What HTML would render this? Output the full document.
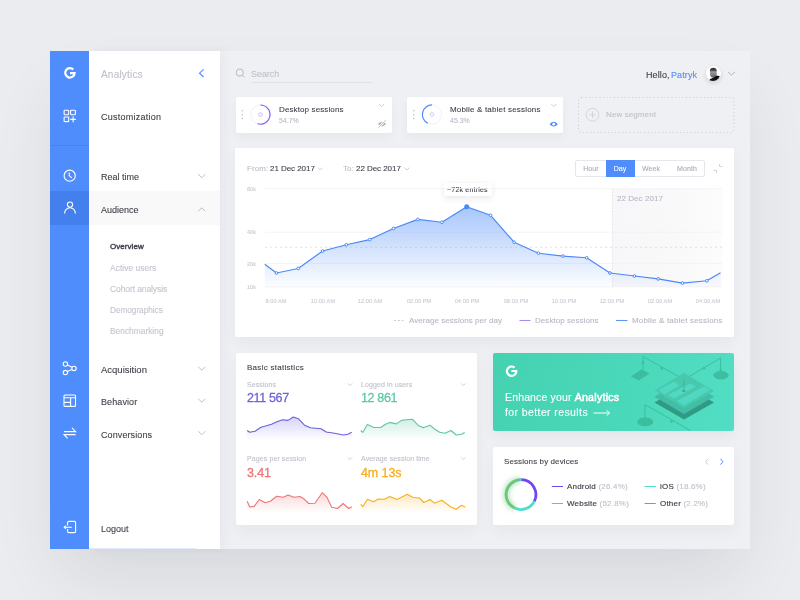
<!DOCTYPE html>
<html><head><meta charset="utf-8"><style>
*{margin:0;padding:0;box-sizing:border-box}
html,body{width:800px;height:600px;overflow:hidden;background:#EBECEF;font-family:"Liberation Sans",sans-serif;color:#3B3C45}
.t{position:absolute;white-space:nowrap;line-height:1;-webkit-text-stroke:0.1px currentColor;will-change:transform}
.a{position:absolute}
svg{position:absolute;left:0;top:0;overflow:visible}
</style></head><body>
<div class="a" style="left:50px;top:51px;width:700px;height:498px;background:#EFF0F3;box-shadow:0 34px 64px -12px rgba(40,50,70,0.12)"></div>
<div class="a" style="left:89px;top:51px;width:131px;height:498px;background:#fff;box-shadow:5px 0 9px rgba(50,60,80,0.045)"></div>
<div class="a" style="left:89px;top:548px;width:107px;height:1px;background:#E2EBFB"></div>
<div class="a" style="left:89px;top:191px;width:131px;height:34px;background:#F9F9FA"></div>
<div class="a" style="left:50px;top:51px;width:39.3px;height:498px;background:#4E8DFB"></div>
<div class="a" style="left:50px;top:191px;width:39px;height:34px;background:#4380EE"></div>
<div class="a" style="left:50px;top:145px;width:39px;height:1px;background:#4782EE"></div>
<div class="t" style="left:101.00px;top:70.00px;font-size:10px;color:#BDBFCA;letter-spacing:0.2px;">Analytics</div>
<div class="t" style="left:101.00px;top:113.00px;font-size:9px;color:#3E3F48;letter-spacing:0.25px;">Customization</div>
<div class="t" style="left:101.00px;top:173.00px;font-size:9px;color:#3E3F48;">Real time</div>
<div class="t" style="left:101.00px;top:206.00px;font-size:9px;color:#3E3F48;">Audience</div>
<div class="t" style="left:109.60px;top:243.00px;font-size:8px;color:#3E3F48;letter-spacing:0.05px;"><span style="-webkit-text-stroke:0.4px #3E3F48">Overview</span></div>
<div class="t" style="left:109.60px;top:264.00px;font-size:8.5px;color:#C3C4CE;">Active users</div>
<div class="t" style="left:109.60px;top:285.00px;font-size:8.5px;color:#C3C4CE;letter-spacing:-0.1px;">Cohort analysis</div>
<div class="t" style="left:109.60px;top:307.00px;font-size:8.2px;color:#C3C4CE;">Demographics</div>
<div class="t" style="left:109.60px;top:327.00px;font-size:8.4px;color:#C3C4CE;">Benchmarking</div>
<div class="t" style="left:101.00px;top:365.00px;font-size:9.5px;color:#3E3F48;">Acquisition</div>
<div class="t" style="left:101.00px;top:398.00px;font-size:9px;color:#3E3F48;letter-spacing:0.1px;">Behavior</div>
<div class="t" style="left:101.00px;top:431.00px;font-size:9px;color:#3E3F48;letter-spacing:0.1px;">Conversions</div>
<div class="t" style="left:101.00px;top:525.00px;font-size:9px;color:#3E3F48;">Logout</div>
<div class="t" style="left:250.60px;top:70.00px;font-size:9px;color:#C0C1CB;letter-spacing:-0.05px;">Search</div>
<div class="a" style="left:250.5px;top:81.6px;width:122px;height:1px;background:#E1E2E7"></div>
<div class="t" style="left:645.60px;top:71.00px;font-size:9px;color:#3E3F48;letter-spacing:0.1px;">Hello,</div>
<div class="t" style="left:671.00px;top:71.00px;font-size:9px;color:#4E8DFB;letter-spacing:0.1px;">Patryk</div>
<div class="a" style="left:705.5px;top:65.9px;width:15px;height:15px;border-radius:50%;background:#fff;box-shadow:0 2px 5px rgba(0,0,0,0.14)"></div>
<div class="a" style="left:236px;top:97px;width:155.5px;height:35.5px;background:#fff;border-radius:2px;box-shadow:0 5px 10px rgba(50,60,80,0.045)"></div>
<div class="a" style="left:407px;top:97px;width:156px;height:35.5px;background:#fff;border-radius:2px;box-shadow:0 5px 10px rgba(50,60,80,0.045)"></div>
<div class="t" style="left:278.80px;top:106.00px;font-size:8px;color:#3E3F48;letter-spacing:0.12px;">Desktop sessions</div>
<div class="t" style="left:278.80px;top:117.00px;font-size:7px;color:#B9BBC6;">54.7%</div>
<div class="t" style="left:450.30px;top:106.00px;font-size:8px;color:#3E3F48;letter-spacing:0.18px;">Mobile &amp; tablet sessions</div>
<div class="t" style="left:450.30px;top:117.00px;font-size:7px;color:#B9BBC6;">45.3%</div>
<div class="t" style="left:606.00px;top:111.00px;font-size:8px;color:#BEC0CA;letter-spacing:0.1px;">New segment</div>
<div class="a" style="left:235px;top:148px;width:498.5px;height:188.5px;background:#fff;border-radius:2px;box-shadow:0 6px 14px rgba(50,60,80,0.05)"></div>
<div class="t" style="left:247.00px;top:165.00px;font-size:8px;color:#B9BBC6;letter-spacing:0.1px;">From:</div>
<div class="t" style="left:270.00px;top:165.00px;font-size:8px;color:#3E3F48;letter-spacing:-0.05px;">21 Dec 2017</div>
<div class="t" style="left:343.00px;top:165.00px;font-size:8px;color:#B9BBC6;letter-spacing:0.1px;">To:</div>
<div class="t" style="left:355.50px;top:165.00px;font-size:8px;color:#3E3F48;letter-spacing:-0.05px;">22 Dec 2017</div>
<div class="a" style="left:575.2px;top:160.3px;width:129.8px;height:17.2px;border:1px solid #E6E7EC;border-radius:2px"></div>
<div class="a" style="left:606px;top:160.3px;width:28.7px;height:17.2px;background:#4E8DFB"></div>
<div class="t" style="left:490.50px;width:200px;text-align:center;top:165.00px;font-size:7px;color:#A9ABB8;letter-spacing:0.1px;">Hour</div>
<div class="t" style="left:520.30px;width:200px;text-align:center;top:165.00px;font-size:7px;color:#FFFFFF;letter-spacing:0.1px;">Day</div>
<div class="t" style="left:551.30px;width:200px;text-align:center;top:165.00px;font-size:7px;color:#A9ABB8;letter-spacing:0.1px;">Week</div>
<div class="t" style="left:586.70px;width:200px;text-align:center;top:165.00px;font-size:7px;color:#A9ABB8;letter-spacing:0.1px;">Month</div>
<div class="a" style="left:612.4px;top:188.6px;width:110px;height:98.6px;background:linear-gradient(90deg,#F7F7F9 0%,#F9F9FA 60%,#FCFCFD 100%)"></div>
<div class="t" style="left:616.70px;top:195.00px;font-size:8px;color:#B7B8C3;letter-spacing:0.05px;">22 Dec 2017</div>
<div class="t" style="left:247.00px;top:187.00px;font-size:5.6px;color:#C9CAD3;">80k</div>
<div class="t" style="left:247.00px;top:230.00px;font-size:5.6px;color:#C9CAD3;">40k</div>
<div class="t" style="left:247.00px;top:262.00px;font-size:5.6px;color:#C9CAD3;">20k</div>
<div class="t" style="left:247.00px;top:285.00px;font-size:5.6px;color:#C9CAD3;">10k</div>
<div class="t" style="left:176.10px;width:200px;text-align:center;top:299.00px;font-size:5.6px;color:#CACBD3;letter-spacing:0.1px;">8:00 AM</div>
<div class="t" style="left:222.60px;width:200px;text-align:center;top:299.00px;font-size:5.6px;color:#CACBD3;letter-spacing:0.1px;">10:00 AM</div>
<div class="t" style="left:270.40px;width:200px;text-align:center;top:299.00px;font-size:5.6px;color:#CACBD3;letter-spacing:0.1px;">12:00 AM</div>
<div class="t" style="left:318.50px;width:200px;text-align:center;top:299.00px;font-size:5.6px;color:#CACBD3;letter-spacing:0.1px;">02:00 PM</div>
<div class="t" style="left:367.00px;width:200px;text-align:center;top:299.00px;font-size:5.6px;color:#CACBD3;letter-spacing:0.1px;">04:00 PM</div>
<div class="t" style="left:415.75px;width:200px;text-align:center;top:299.00px;font-size:5.6px;color:#CACBD3;letter-spacing:0.1px;">08:00 PM</div>
<div class="t" style="left:464.20px;width:200px;text-align:center;top:299.00px;font-size:5.6px;color:#CACBD3;letter-spacing:0.1px;">10:00 PM</div>
<div class="t" style="left:512.00px;width:200px;text-align:center;top:299.00px;font-size:5.6px;color:#CACBD3;letter-spacing:0.1px;">12:00 PM</div>
<div class="t" style="left:559.70px;width:200px;text-align:center;top:299.00px;font-size:5.6px;color:#CACBD3;letter-spacing:0.1px;">02:00 AM</div>
<div class="t" style="left:608.10px;width:200px;text-align:center;top:299.00px;font-size:5.6px;color:#CACBD3;letter-spacing:0.1px;">04:00 AM</div>
<div class="a" style="left:443.5px;top:182.5px;width:48.5px;height:13.5px;background:#fff;border-radius:1px;box-shadow:0 2px 6px rgba(50,60,80,0.12)"></div>
<div class="t" style="left:447.00px;top:186.00px;font-size:7px;color:#3E3F48;letter-spacing:0.2px;">~72k entries</div>
<div class="t" style="left:408.70px;top:317.00px;font-size:8px;color:#B5B7C2;letter-spacing:0.05px;">Average sessions per day</div>
<div class="t" style="left:534.50px;top:317.00px;font-size:8px;color:#B5B7C2;letter-spacing:0.05px;">Desktop sessions</div>
<div class="t" style="left:631.80px;top:317.00px;font-size:8px;color:#B5B7C2;letter-spacing:0.18px;">Mobile &amp; tablet sessions</div>
<div class="a" style="left:236px;top:352.5px;width:241px;height:172.5px;background:#fff;border-radius:2px;box-shadow:0 6px 14px rgba(50,60,80,0.05)"></div>
<div class="t" style="left:247.30px;top:364.00px;font-size:8px;color:#3E3F48;letter-spacing:0.28px;">Basic statistics</div>
<div class="t" style="left:247.30px;top:381.00px;font-size:7px;color:#BFC1CB;letter-spacing:0.1px;">Sessions</div>
<div class="t" style="left:360.70px;top:381.00px;font-size:7px;color:#BFC1CB;letter-spacing:0.1px;">Logged in users</div>
<div class="t" style="left:247.30px;top:455.00px;font-size:7px;color:#BFC1CB;letter-spacing:0.1px;">Pages per session</div>
<div class="t" style="left:360.70px;top:455.00px;font-size:7px;color:#BFC1CB;letter-spacing:0.1px;">Average session time</div>
<div class="t" style="left:247.30px;top:392.00px;font-size:12.5px;color:#6C64DC;letter-spacing:-0.35px;-webkit-text-stroke:0.3px currentColor">211 567</div>
<div class="t" style="left:360.70px;top:392.00px;font-size:12.5px;color:#5EC6A6;letter-spacing:-0.35px;-webkit-text-stroke:0.3px currentColor">12 861</div>
<div class="t" style="left:247.30px;top:467.00px;font-size:12.5px;color:#EF7377;letter-spacing:-0.1px;-webkit-text-stroke:0.3px currentColor">3.41</div>
<div class="t" style="left:360.70px;top:467.00px;font-size:12.5px;color:#F8AE1E;letter-spacing:-0.1px;-webkit-text-stroke:0.3px currentColor">4m 13s</div>
<div class="a" style="left:493px;top:352.5px;width:241.3px;height:78.3px;border-radius:2px;background:linear-gradient(100deg,#44D2B1 0%,#4AD8BA 55%,#52DEC4 100%);box-shadow:0 6px 14px rgba(50,60,80,0.06);overflow:hidden"></div>
<div class="t" style="left:505.00px;top:392.00px;font-size:10.5px;color:#FFFFFF;letter-spacing:0.15px;">Enhance your <span style="-webkit-text-stroke:0.55px #fff;letter-spacing:0.3px">Analytics</span></div>
<div class="t" style="left:505.00px;top:407.00px;font-size:10.5px;color:#FFFFFF;letter-spacing:0.4px;">for better results</div>
<div class="a" style="left:493px;top:447.3px;width:241.3px;height:77.7px;background:#fff;border-radius:2px;box-shadow:0 6px 14px rgba(50,60,80,0.05)"></div>
<div class="t" style="left:504.30px;top:458.00px;font-size:8px;color:#3E3F48;letter-spacing:0.1px;">Sessions by devices</div>
<div class="t" style="left:567.30px;top:483.00px;font-size:8px;color:#3E3F48;letter-spacing:0.2px;"><span style="-webkit-text-stroke:0.15px #3E3F48">Android</span> <span style="color:#BFC1CB">(26.4%)</span></div>
<div class="t" style="left:567.30px;top:500.00px;font-size:8px;color:#3E3F48;letter-spacing:0.2px;"><span style="-webkit-text-stroke:0.15px #3E3F48">Website</span> <span style="color:#BFC1CB">(52.8%)</span></div>
<div class="t" style="left:660.10px;top:483.00px;font-size:8px;color:#3E3F48;letter-spacing:0.2px;"><span style="-webkit-text-stroke:0.15px #3E3F48">iOS</span> <span style="color:#BFC1CB">(18.6%)</span></div>
<div class="t" style="left:660.10px;top:500.00px;font-size:8px;color:#3E3F48;letter-spacing:0.2px;"><span style="-webkit-text-stroke:0.15px #3E3F48">Other</span> <span style="color:#BFC1CB">(2.2%)</span></div>
<svg width="800" height="600" viewBox="0 0 800 600"><path d="M198.3,174.25 L201.8,177.75 L205.3,174.25" fill="none" stroke="#B5B7C3" stroke-width="0.9"/><path d="M198.3,211.25 L201.8,207.75 L205.3,211.25" fill="none" stroke="#B5B7C3" stroke-width="0.9"/><path d="M198.3,366.75 L201.8,370.25 L205.3,366.75" fill="none" stroke="#B5B7C3" stroke-width="0.9"/><path d="M198.3,398.75 L201.8,402.25 L205.3,398.75" fill="none" stroke="#B5B7C3" stroke-width="0.9"/><path d="M198.3,431.25 L201.8,434.75 L205.3,431.25" fill="none" stroke="#B5B7C3" stroke-width="0.9"/><path d="M203.6,69.3 L199.5,73.2 L203.6,77" fill="none" stroke="#4E8DFB" stroke-width="1.1"/><path d="M73.3,69.6 A4.7,4.7 0 1 0 74.6,73.1 L70.0,73.1" fill="none" stroke="#FFFFFF" stroke-width="2.2"/><g fill="none" stroke="#FFFFFF" stroke-width="1.1"><rect x="64.1" y="110.3" width="4.6" height="4.4" rx="0.6"/><rect x="70.6" y="110.3" width="4.8" height="4.4" rx="0.6"/><rect x="64.1" y="117" width="4.6" height="4.6" rx="0.6"/><path d="M70.3,119.4 H75.9 M73.1,116.6 V122.2"/></g><g fill="none" stroke="#FFFFFF" stroke-width="1.1"><circle cx="69.7" cy="175.7" r="5.6"/><path d="M69.2,172.6 V175.6 L71.8,177.9"/></g><g fill="none" stroke="#FFFFFF" stroke-width="1.1"><circle cx="70" cy="204.6" r="2.6"/><path d="M64.6,213.5 A5.4,5.8 0 0 1 75.4,213.5"/></g><g fill="none" stroke="#FFFFFF" stroke-width="1.1"><circle cx="65.4" cy="364" r="2.2"/><circle cx="74" cy="368.4" r="2.2"/><circle cx="65.4" cy="372.6" r="2.2"/><path d="M67.4,365 L72,367.3 M67.4,371.6 L72,369.5"/></g><g fill="none" stroke="#FFFFFF" stroke-width="1.1"><rect x="64" y="395" width="11.5" height="11.4" rx="1"/><path d="M64,397.8 H75.5 M70.6,397.8 V406.4 M64,402.4 H70.6"/></g><g fill="none" stroke="#FFFFFF" stroke-width="1.1"><path d="M64,431.6 H75.6 L72,427.8 M75.6,434.6 H64 L67.6,438.4"/></g><g fill="none" stroke="#FFFFFF" stroke-width="1.1"><path d="M67.6,525.4 V522.6 Q67.6,521.4 68.8,521.4 H74.4 Q75.6,521.4 75.6,522.6 V531.4 Q75.6,532.6 74.4,532.6 H68.8 Q67.6,532.6 67.6,531.4 V529"/><path d="M64.2,527.3 H71.8"/><path d="M66,525.7 L64.2,527.3 L66,528.9"/></g><g fill="none" stroke="#B5B7C3" stroke-width="1"><circle cx="239.8" cy="72.6" r="3.6"/><path d="M242.4,75.2 L244.6,77.4"/></g><defs><clipPath id="avc"><circle cx="713" cy="73.4" r="7.5"/></clipPath><linearGradient id="face" x1="0" y1="0" x2="0" y2="1"><stop offset="0" stop-color="#333"/><stop offset="0.25" stop-color="#444"/><stop offset="0.4" stop-color="#9c9c9c"/><stop offset="0.75" stop-color="#7a7a7a"/><stop offset="1" stop-color="#555"/></linearGradient></defs><g clip-path="url(#avc)"><path d="M710,69.5 Q710.5,67.8 713.2,67.8 Q716.6,67.9 716.7,70.5 L716.6,75 Q716,77.6 713.3,77.8 Q710.6,77.5 710.1,75 Z" fill="url(#face)"/><path d="M708.6,80.9 Q710,78.4 712.5,77.9 Q715,77.2 716.3,75.6 Q719.5,75.8 721,77 L721,82 L708,82 Z" fill="#111"/></g><path d="M728.0,71.9 L731.5,75.1 L735.0,71.9" fill="none" stroke="#A8AAB6" stroke-width="0.9"/><rect x="578.5" y="97.5" width="155.5" height="35" rx="3" fill="none" stroke="#CBCDD5" stroke-width="1.1" stroke-dasharray="1.1,2.5"/><circle cx="242.3" cy="110.8" r="0.75" fill="#B9BBC6"/><circle cx="242.3" cy="114.7" r="0.75" fill="#B9BBC6"/><circle cx="242.3" cy="118.6" r="0.75" fill="#B9BBC6"/><circle cx="413.8" cy="110.8" r="0.75" fill="#B9BBC6"/><circle cx="413.8" cy="114.7" r="0.75" fill="#B9BBC6"/><circle cx="413.8" cy="118.6" r="0.75" fill="#B9BBC6"/><circle cx="260.4" cy="114.6" r="9.6" fill="none" stroke="#EDEEF2" stroke-width="0.9"/><path d="M260.40,105.00 A9.6,9.6 0 1 1 257.59,123.78" fill="none" stroke="#8A5CF0" stroke-width="1.2"/><circle cx="260.4" cy="114.6" r="1.8" fill="none" stroke="#C9B6F6" stroke-width="0.9"/><circle cx="432" cy="114.5" r="9.6" fill="none" stroke="#EDEEF2" stroke-width="0.9"/><path d="M432.00,104.90 A9.6,9.6 0 0 0 427.79,123.13" fill="none" stroke="#4E8DFB" stroke-width="1.2"/><circle cx="432" cy="114.5" r="1.8" fill="none" stroke="#B5CFFB" stroke-width="0.9"/><path d="M379.0,104.0 L381.5,106.6 L384.0,104.0" fill="none" stroke="#C3C5CF" stroke-width="0.8"/><path d="M551.3,104.0 L553.8,106.6 L556.3,104.0" fill="none" stroke="#C3C5CF" stroke-width="0.8"/><path d="M378,124.1 Q382,119.3 386,124.1 Q382,128.9 378,124.1 Z" fill="#AEB0BC"/><circle cx="382" cy="124.1" r="1.3" fill="#fff"/><path d="M377.8,128.3 L386.4,119.6" stroke="#fff" stroke-width="1.6"/><path d="M378.3,127.8 L385.9,120.1" stroke="#AEB0BC" stroke-width="0.7"/><path d="M549.6,124.2 Q553.7,119.4 557.8,124.2 Q553.7,129 549.6,124.2 Z" fill="#4E8DFB"/><circle cx="553.7" cy="124.2" r="1.4" fill="#fff"/><g fill="none" stroke="#D0D2DA" stroke-width="0.9"><circle cx="592.5" cy="114.8" r="6.4"/><path d="M592.5,111.6 V118 M589.3,114.8 H595.7"/></g><path d="M318.0,167.65 L320.3,169.95000000000002 L322.6,167.65" fill="none" stroke="#BDBFC9" stroke-width="0.8"/><path d="M404.7,167.65 L407,169.95000000000002 L409.3,167.65" fill="none" stroke="#BDBFC9" stroke-width="0.8"/><g fill="none" stroke="#CDCFD7" stroke-width="0.9"><path d="M719.5,164 V166.5 H722.4 M713.1,170.3 H716.5 V172.8"/></g><path d="M612.4,188.6 V287.2" stroke="#DADBE1" stroke-width="0.8" stroke-dasharray="1.2,2" fill="none"/><path d="M265,188.6 H722.4" stroke="#F0F1F4" stroke-width="0.8" fill="none"/><path d="M265,232.2 H722.4" stroke="#F0F1F4" stroke-width="0.8" fill="none"/><path d="M265,263.4 H722.4" stroke="#F0F1F4" stroke-width="0.8" fill="none"/><path d="M265,286.8 H722.4" stroke="#F0F1F4" stroke-width="0.8" fill="none"/><path d="M265,247.3 H722.4" stroke="#D9DAE0" stroke-width="0.8" stroke-dasharray="2.2,2.8" fill="none"/><defs><linearGradient id="ag" x1="0" y1="0" x2="0" y2="1"><stop offset="0" stop-color="#4C8BF9" stop-opacity="0.55"/><stop offset="1" stop-color="#4C8BF9" stop-opacity="0.02"/></linearGradient><linearGradient id="ag2" gradientUnits="userSpaceOnUse" x1="0" y1="205" x2="0" y2="290"><stop offset="0" stop-color="#4C8BF9" stop-opacity="0.5"/><stop offset="1" stop-color="#4C8BF9" stop-opacity="0.0"/></linearGradient></defs><path d="M264.8,287 L264.8,264.3 L276.5,273 L298.2,268.5 L322.6,251 L346.3,244.8 L369.7,239.6 L393.5,228.5 L417.8,219.4 L441.9,222.3 L466.7,206.8 L490.6,215.3 L514.1,242.2 L538.5,253.2 L562.9,256.1 L586.6,257.8 L610,273 L634.4,276 L658.1,278.9 L682.5,283.1 L706.8,280.8 L720.5,272.7 L720.5,287 Z" fill="url(#ag2)"/><polyline points="264.8,264.3 276.5,273 298.2,268.5 322.6,251 346.3,244.8 369.7,239.6 393.5,228.5 417.8,219.4 441.9,222.3 466.7,206.8 490.6,215.3 514.1,242.2 538.5,253.2 562.9,256.1 586.6,257.8 610,273 634.4,276 658.1,278.9 682.5,283.1 706.8,280.8 720.5,272.7" fill="none" stroke="#4A88F8" stroke-width="1.15" stroke-linejoin="round"/><circle cx="276.5" cy="273" r="1.35" fill="#fff" stroke="#4A88F8" stroke-width="1"/><circle cx="298.2" cy="268.5" r="1.35" fill="#fff" stroke="#4A88F8" stroke-width="1"/><circle cx="322.6" cy="251" r="1.35" fill="#fff" stroke="#4A88F8" stroke-width="1"/><circle cx="346.3" cy="244.8" r="1.35" fill="#fff" stroke="#4A88F8" stroke-width="1"/><circle cx="369.7" cy="239.6" r="1.35" fill="#fff" stroke="#4A88F8" stroke-width="1"/><circle cx="393.5" cy="228.5" r="1.35" fill="#fff" stroke="#4A88F8" stroke-width="1"/><circle cx="417.8" cy="219.4" r="1.35" fill="#fff" stroke="#4A88F8" stroke-width="1"/><circle cx="441.9" cy="222.3" r="1.35" fill="#fff" stroke="#4A88F8" stroke-width="1"/><circle cx="466.7" cy="206.8" r="2.5" fill="#4A88F8"/><circle cx="490.6" cy="215.3" r="1.35" fill="#fff" stroke="#4A88F8" stroke-width="1"/><circle cx="514.1" cy="242.2" r="1.35" fill="#fff" stroke="#4A88F8" stroke-width="1"/><circle cx="538.5" cy="253.2" r="1.35" fill="#fff" stroke="#4A88F8" stroke-width="1"/><circle cx="562.9" cy="256.1" r="1.35" fill="#fff" stroke="#4A88F8" stroke-width="1"/><circle cx="586.6" cy="257.8" r="1.35" fill="#fff" stroke="#4A88F8" stroke-width="1"/><circle cx="610" cy="273" r="1.35" fill="#fff" stroke="#4A88F8" stroke-width="1"/><circle cx="634.4" cy="276" r="1.35" fill="#fff" stroke="#4A88F8" stroke-width="1"/><circle cx="658.1" cy="278.9" r="1.35" fill="#fff" stroke="#4A88F8" stroke-width="1"/><circle cx="682.5" cy="283.1" r="1.35" fill="#fff" stroke="#4A88F8" stroke-width="1"/><circle cx="706.8" cy="280.8" r="1.35" fill="#fff" stroke="#4A88F8" stroke-width="1"/><path d="M465.8,195.8 L467.6,197.6 L469.4,195.8 Z" fill="#fff"/><path d="M394,320.5 H405.5" stroke="#C6C8D0" stroke-width="0.9" stroke-dasharray="2,1.8" fill="none"/><path d="M519.5,320.5 H530.5" stroke="#A98AF2" stroke-width="1.1" fill="none"/><path d="M616,320.5 H627.5" stroke="#5E96F8" stroke-width="1.1" fill="none"/><path d="M347.8,383.4 L350,385.6 L352.2,383.4" fill="none" stroke="#C3C5CF" stroke-width="0.8"/><path d="M461.1,383.4 L463.3,385.6 L465.5,383.4" fill="none" stroke="#C3C5CF" stroke-width="0.8"/><path d="M347.8,457.4 L350,459.6 L352.2,457.4" fill="none" stroke="#C3C5CF" stroke-width="0.8"/><path d="M461.1,457.4 L463.3,459.6 L465.5,457.4" fill="none" stroke="#C3C5CF" stroke-width="0.8"/><defs><linearGradient id="sg1" gradientUnits="userSpaceOnUse" x1="0" y1="417" x2="0" y2="440"><stop offset="0" stop-color="#6A5FE0" stop-opacity="0.28"/><stop offset="1" stop-color="#6A5FE0" stop-opacity="0"/></linearGradient></defs><path d="M247.2,440 L247.2,430.5 L249.7,432.3 L255,431.2 L261,427.2 L265.5,426 L271.5,424.2 L277.5,421.5 L282.7,419.7 L288,420.4 L293.2,417 L298.5,418.8 L304.5,425.2 L310.5,427.8 L321,428.7 L326.2,432 L334.5,433.2 L343.5,435 L348,434.2 L351.7,432.3 L351.7,440 Z" fill="url(#sg1)"/><polyline points="247.2,430.5 249.7,432.3 255,431.2 261,427.2 265.5,426 271.5,424.2 277.5,421.5 282.7,419.7 288,420.4 293.2,417 298.5,418.8 304.5,425.2 310.5,427.8 321,428.7 326.2,432 334.5,433.2 343.5,435 348,434.2 351.7,432.3" fill="none" stroke="#6A5FE0" stroke-width="1.1" stroke-linejoin="round"/><defs><linearGradient id="sg2" gradientUnits="userSpaceOnUse" x1="0" y1="419.2" x2="0" y2="440"><stop offset="0" stop-color="#5CC8A4" stop-opacity="0.28"/><stop offset="1" stop-color="#5CC8A4" stop-opacity="0"/></linearGradient></defs><path d="M360.7,440 L360.7,430.5 L362.8,432.4 L367.3,424.5 L373.7,427.5 L380.8,427.5 L385,424.5 L389.8,422.4 L396.2,423.9 L401.5,420.4 L406.7,419.7 L412.3,419.2 L418,425.2 L423.2,427.8 L430,425.2 L434.5,429 L439.7,432.3 L445,433.2 L451,430.5 L456.2,435 L461.4,434.2 L464.7,432.4 L464.7,440 Z" fill="url(#sg2)"/><polyline points="360.7,430.5 362.8,432.4 367.3,424.5 373.7,427.5 380.8,427.5 385,424.5 389.8,422.4 396.2,423.9 401.5,420.4 406.7,419.7 412.3,419.2 418,425.2 423.2,427.8 430,425.2 434.5,429 439.7,432.3 445,433.2 451,430.5 456.2,435 461.4,434.2 464.7,432.4" fill="none" stroke="#5CC8A4" stroke-width="1.1" stroke-linejoin="round"/><defs><linearGradient id="sg3" gradientUnits="userSpaceOnUse" x1="0" y1="492.7" x2="0" y2="513"><stop offset="0" stop-color="#F07478" stop-opacity="0.28"/><stop offset="1" stop-color="#F07478" stop-opacity="0"/></linearGradient></defs><path d="M247.2,513 L247.2,501.3 L249.7,507 L254.2,506.4 L259.2,499.5 L265.2,502.8 L270.7,501 L276.7,496.2 L283.5,497.2 L288,495 L294,497.2 L300,496.5 L303.7,498.7 L308.7,503.5 L315,503.2 L322.2,492.7 L326.7,496.8 L331.7,507.3 L337.5,508.5 L343.1,503.5 L348.7,508.5 L351.7,506.7 L351.7,513 Z" fill="url(#sg3)"/><polyline points="247.2,501.3 249.7,507 254.2,506.4 259.2,499.5 265.2,502.8 270.7,501 276.7,496.2 283.5,497.2 288,495 294,497.2 300,496.5 303.7,498.7 308.7,503.5 315,503.2 322.2,492.7 326.7,496.8 331.7,507.3 337.5,508.5 343.1,503.5 348.7,508.5 351.7,506.7" fill="none" stroke="#F07478" stroke-width="1.1" stroke-linejoin="round"/><defs><linearGradient id="sg4" gradientUnits="userSpaceOnUse" x1="0" y1="494.2" x2="0" y2="513"><stop offset="0" stop-color="#F8B020" stop-opacity="0.28"/><stop offset="1" stop-color="#F8B020" stop-opacity="0"/></linearGradient></defs><path d="M360.7,513 L360.7,504.3 L362.8,506.7 L367.3,499.2 L373.7,501.7 L378.2,499 L384.2,499.2 L389.8,496.5 L397,499.5 L407.2,494.2 L412.7,497.2 L419.5,498 L423.7,502.5 L430,499.5 L434.5,503.2 L441.7,500.2 L451,507 L456.2,509.2 L461.4,505.2 L465.2,507 L465.2,513 Z" fill="url(#sg4)"/><polyline points="360.7,504.3 362.8,506.7 367.3,499.2 373.7,501.7 378.2,499 384.2,499.2 389.8,496.5 397,499.5 407.2,494.2 412.7,497.2 419.5,498 423.7,502.5 430,499.5 434.5,503.2 441.7,500.2 451,507 456.2,509.2 461.4,505.2 465.2,507" fill="none" stroke="#F8B020" stroke-width="1.1" stroke-linejoin="round"/><path d="M514.6,367.6 A4.7,4.7 0 1 0 516.3,371.0 L511.4,371.0" fill="none" stroke="#fff" stroke-width="2.2"/><g fill="none" stroke="#fff" stroke-width="1"><path d="M593.5,413 H609.5 M606.6,410.2 L609.6,413 L606.6,415.8"/></g><g opacity="0.75"><path d="M643,356.5 L684,379.5 M643,356.5 V370 M684,379.5 V390.5 M684,379.5 L720.6,357.9 V374 M645,422 V404.6 L690.4,430.5" stroke="#36B594" stroke-width="1" fill="none"/><path d="M630.8,376.5 L641.5,369.5 L649.5,373.5 L638.8,380.5 Z" fill="#36B594"/><ellipse cx="721" cy="375.2" rx="7.6" ry="4.3" fill="#36B594"/><ellipse cx="645.2" cy="421.9" rx="8" ry="4.3" fill="#36B594"/><path d="M641.2,363.5 L643,360.5 L644.8,363.5 Z M660,367 L663.5,368 L661.2,370.6 Z M703,366.5 L706,368.3 L703.6,370 Z M719,369.5 L720.6,372.5 L722.2,369.5 Z M670,420 L673.6,421 L671,423.6 Z" fill="#36B594"/></g><path d="M654.5,402.5 L684,385 L714,402.5 L684,419.5 Z" fill="#2F9C82"/><path d="M654.5,396.5 L684,379 L714,396.5 L684,414 Z" fill="#41BFA3"/><path d="M654.5,396.5 L684,414 L714,396.5" fill="none" stroke="#4E9BE0" stroke-width="0.5" opacity="0.8"/><path d="M654.5,390.5 L684,373 L714,391 L684,408 Z" fill="#48C9AE"/><path d="M658.5,390 L674,381.5 L679.5,385.5 L664.5,394.5 Z M668,395 L690,383.5 L696,386.5 L674,398.5 Z M677,401 L704,386.5 L710,390 L684,405.5 Z" fill="#50D8C2"/><ellipse cx="683.8" cy="391" rx="1.9" ry="1.1" fill="#3AAE92"/><path d="M684,379.5 V390.5" stroke="#3AAE92" stroke-width="0.8"/><path d="M708.2,458.8 L705.6,461.7 L708.2,464.6" fill="none" stroke="#C1C3CD" stroke-width="0.9"/><path d="M720.4,458.8 L723,461.7 L720.4,464.6" fill="none" stroke="#4E8DFB" stroke-width="1"/><defs><filter id="glow" x="-50%" y="-50%" width="200%" height="200%"><feGaussianBlur stdDeviation="2.5"/></filter></defs><path d="M514.66,508.19 A15,15 0 0 1 519.69,479.66" fill="none" stroke="#6CC77A" stroke-width="5" opacity="0.55" filter="url(#glow)"/><path d="M521.26,479.70 A14.9,14.9 0 0 1 534.28,501.36" fill="none" stroke="#7048F0" stroke-width="2.8"/><path d="M534.28,501.36 A14.9,14.9 0 0 1 514.70,508.10" fill="none" stroke="#4FDDD0" stroke-width="2.8"/><path d="M514.70,508.10 A14.9,14.9 0 0 1 520.22,479.72" fill="none" stroke="#6CC77A" stroke-width="2.8"/><path d="M520.22,479.72 A14.9,14.9 0 0 1 521.26,479.70" fill="none" stroke="#3BB0F0" stroke-width="2.8"/><path d="M551.8,486.5 H563.0" stroke="#7048F0" stroke-width="1"/><path d="M551.8,503.5 H563.0" stroke="#6CC77A" stroke-width="1"/><path d="M644.6,486.5 H655.8000000000001" stroke="#4FDDD0" stroke-width="1"/><path d="M644.6,503.5 H655.8000000000001" stroke="#3BB0F0" stroke-width="1"/></svg>
</body></html>
